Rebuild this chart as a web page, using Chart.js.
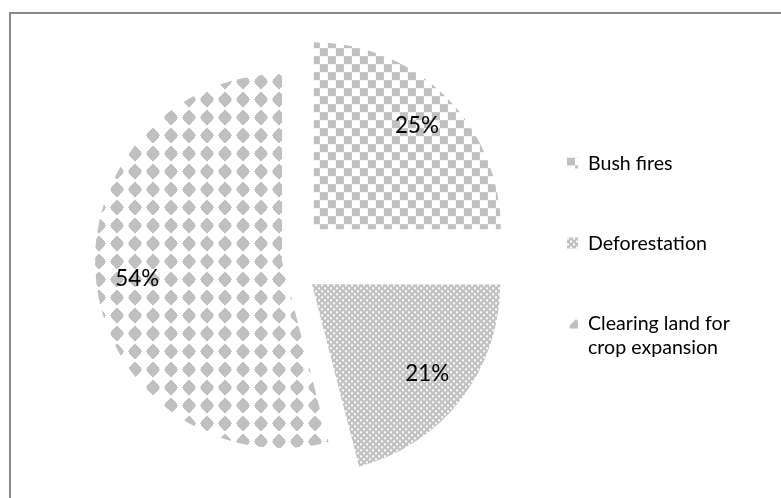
<!DOCTYPE html>
<html>
<head>
<meta charset="utf-8">
<script src="https://cdn.jsdelivr.net/npm/chart.js@4.4.1/dist/chart.umd.min.js"></script>
<style>
  html, body { margin: 0; padding: 0; background: #fff; overflow: hidden; }
  #wrap { position: relative; width: 781px; height: 498px; }
  #frame { position: absolute; left: 9px; top: 12px; width: 820px; height: 540px;
           border-top: 2px solid #8a8a8a; border-left: 2px solid #8a8a8a; }
  #c { position: absolute; left: 0; top: 0; }
</style>
</head>
<body>
<div id="wrap">
  <div id="frame"></div>
  <canvas id="c" width="781" height="498"></canvas>
</div>
<script>
// Causes of land degradation (share of responses, %)
const categories = ['Bush fires', 'Deforestation', 'Clearing land for crop expansion'];
const shares = [25, 21, 54];

const FONT_FAMILY = 'Lato, "Liberation Sans", sans-serif';
const canvas = document.getElementById('c');
const ctx = canvas.getContext('2d');

// fit a font size so that `sample` spans `target` pixels
function fitFont(sample, target) {
  ctx.font = '100px ' + FONT_FAMILY;
  const px = Math.round(100 * target / ctx.measureText(sample).width * 10) / 10;
  return px + 'px ' + FONT_FAMILY;
}
const FONT = fitFont('Deforestation', 119);
const PCT_FONT = fitFont('25%', 44);

function tile(size, paint) {
  const t = document.createElement('canvas');
  t.width = t.height = size;
  const g = t.getContext('2d');
  paint(g, size);
  return ctx.createPattern(t, 'repeat');
}

const GREY = '#c0c0c0';

// large checkerboard
const checker = tile(16, (g) => {
  g.fillStyle = '#fff'; g.fillRect(0, 0, 16, 16);
  g.fillStyle = GREY; g.fillRect(0, 0, 8, 8); g.fillRect(8, 8, 8, 8);
});

// fine grey texture with small white dots
const fineDots = tile(6, (g) => {
  g.fillStyle = '#c2c2c2'; g.fillRect(0, 0, 6, 6);
  g.fillStyle = '#fff'; g.fillRect(0, 0, 2, 2); g.fillRect(3, 3, 2, 2);
});

// solid stepped diamonds on white
const diamonds = tile(18, (g) => {
  g.fillStyle = '#fff'; g.fillRect(0, 0, 18, 18);
  g.fillStyle = GREY;
  const halfRows = [7, 6, 6, 5, 4, 3, 2, 1];
  for (let dy = -7; dy <= 7; dy++) {
    const h = halfRows[Math.abs(dy)];
    g.fillRect(9 - h, 9 + dy, 2 * h, 1);
  }
});

const fills = [checker, fineDots, diamonds];

function wrapWords(text, maxWidth) {
  ctx.font = FONT;
  const words = text.split(' ');
  const lines = [];
  let line = '';
  words.forEach((w) => {
    const test = line ? line + ' ' + w : w;
    if (line && ctx.measureText(test).width > maxWidth) { lines.push(line); line = w; }
    else line = test;
  });
  if (line) lines.push(line);
  return lines;
}

// percentage text placed inside each (exploded) slice
const sliceLabels = {
  id: 'sliceLabels',
  afterDatasetsDraw(chart) {
    const c = chart.ctx;
    const meta = chart.getDatasetMeta(0);
    c.save();
    c.font = PCT_FONT;
    c.fillStyle = '#000';
    c.textAlign = 'center';
    c.textBaseline = 'middle';
    meta.data.forEach((arc, i) => {
      const p = arc.getProps(['x', 'y', 'startAngle', 'endAngle', 'outerRadius'], true);
      const mid = (p.startAngle + p.endAngle) / 2;
      const shift = (arc.options.offset || 0) / 4;
      const r = shift + p.outerRadius * 0.78;
      c.fillText(chart.data.datasets[0].data[i] + '%', p.x + Math.cos(mid) * r, p.y + Math.sin(mid) * r);
    });
    c.restore();
  }
};

// legend on the right: pattern swatch + wrapped label
const sideLegend = {
  id: 'sideLegend',
  afterDraw(chart) {
    const c = chart.ctx;
    const x0 = 567, textX = 588, firstY = 163, rowStep = 80, lineH = 24, sw = 11;
    c.save();
    c.font = FONT;
    c.fillStyle = '#000';
    c.textBaseline = 'middle';
    chart.data.labels.forEach((label, i) => {
      const y = firstY + i * rowStep;
      c.save();
      c.translate(x0, y - sw / 2);
      c.fillStyle = chart.data.datasets[0].backgroundColor[i];
      c.fillRect(0, 0, sw, sw);
      c.restore();
      wrapWords(label, 160).forEach((ln, k) => {
        c.font = FONT;
        c.fillText(ln, textX, y + k * lineH + 1);
      });
    });
    c.restore();
  }
};

new Chart(canvas, {
  type: 'pie',
  data: {
    labels: categories,
    datasets: [{
      data: shares,
      backgroundColor: fills,
      borderWidth: 0,
      offset: [180, 152, 0],
      hoverOffset: 0
    }]
  },
  options: {
    responsive: false,
    animation: false,
    devicePixelRatio: 1,
    radius: 187,
    layout: { padding: { left: 72, right: 289, top: 51, bottom: 27 } },
    events: [],
    plugins: {
      legend: { display: false },
      tooltip: { enabled: false }
    }
  },
  plugins: [sliceLabels, sideLegend]
});
</script>
</body>
</html>
